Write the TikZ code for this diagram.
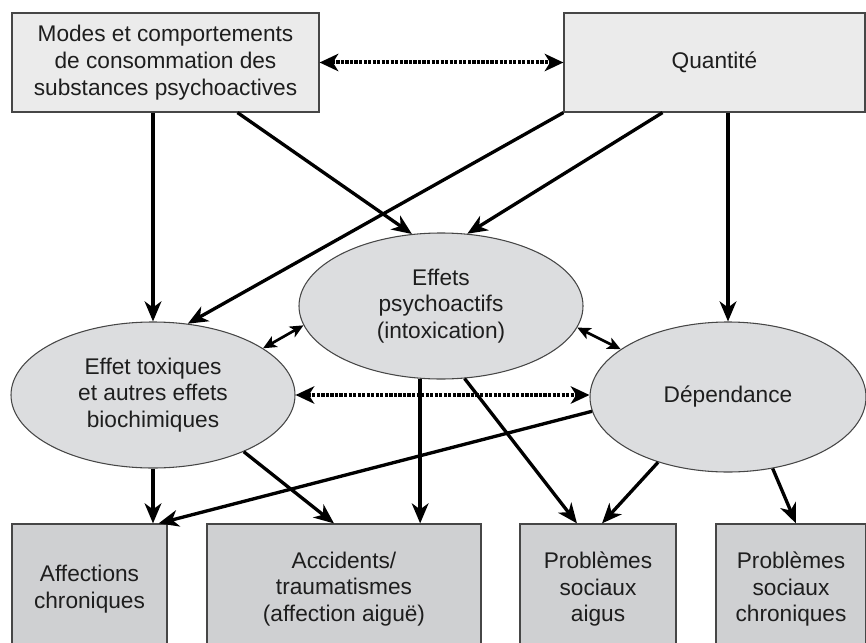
\documentclass[tikz,border=0pt]{standalone}
\usepackage{fontspec}
\setmainfont{Liberation Sans}
\usetikzlibrary{calc}
\usetikzlibrary{arrows.meta}
\usetikzlibrary{shapes.geometric}

\definecolor{topgray}{RGB}{235,235,235}
\definecolor{ellgray}{RGB}{220,221,223}
\definecolor{botgray}{RGB}{207,208,210}
\definecolor{ink}{RGB}{30,30,30}
\definecolor{rim}{RGB}{70,70,70}

\begin{document}
\begin{tikzpicture}[x=0.75pt,y=-0.75pt,
  font=\fontsize{17}{20}\selectfont, text=ink,
  topbox/.style={draw=rim,line width=0.9pt,fill=topgray,align=center,inner sep=0pt,minimum height=74.25pt},
  effect/.style={ellipse,draw=rim,line width=0.8pt,fill=ellgray,align=center,inner sep=0pt},
  outcome/.style={draw=rim,line width=0.9pt,fill=botgray,align=center,inner sep=0pt,minimum height=97.5pt},
  link/.style={line width=2.5pt,-{Stealth[length=15pt,width=12.5pt,inset=4.5pt]}},
  duo/.style={line width=2pt,{Stealth[length=10pt,width=9pt,inset=2.5pt]}-{Stealth[length=10pt,width=9pt,inset=2.5pt]}},
  dotlink/.style={line width=3pt,dash pattern=on 2.4pt off 1pt,{Stealth[length=14pt,width=13pt,inset=4pt]}-{Stealth[length=14pt,width=13pt,inset=4pt]}}]

\useasboundingbox (0,0) rectangle (866,642);
\clip (0,0) rectangle (866,642);

\node[topbox,minimum width=230.25pt] (modes) at (165.5,62.5) {Modes et comportements\\de consommation des\\substances psychoactives};
\node[topbox,minimum width=225.75pt] (qty) at (714.5,62.5) {Quantité};

\node[effect,minimum width=213pt,minimum height=109.5pt] (P) at (441,306) {Effets\\psychoactifs\\(intoxication)};
\node[effect,minimum width=213pt,minimum height=109.5pt] (L) at (153,395) {Effet toxiques\\et autres effets\\biochimiques};
\node[effect,minimum width=207pt,minimum height=112.5pt] (D) at (728,397) {Dépendance};

\node[outcome,minimum width=116.25pt] (aff) at (89.5,589) {Affections\\chroniques};
\node[outcome,minimum width=205.5pt] (acc) at (344,589) {Accidents/\\traumatismes\\(affection aiguë)};
\node[outcome,minimum width=117pt] (aig) at (598,589) {Problèmes\\sociaux\\aigus};
\node[outcome,minimum width=112.5pt] (chr) at (791,589) {Problèmes\\sociaux\\chroniques};

\draw[dotlink] (modes.east) -- (qty.west);
\draw[link] (L.north |- modes.south) -- (L.north);
\draw[link] ($(modes.south)+(72,0)$) -- (P.112);
\draw[link] (qty.south west) -- (L.64);
\draw[link] ($(qty.south)+(-52,0)$) -- (P.70);
\draw[link] (D.north |- qty.south) -- (D.north);

\draw[duo] (L.23) -- (P.188);
\draw[duo] (P.351) -- (D.156);
\draw[dotlink] (L.east) -- (L.east -| D.west);

\draw[link] (L.south) -- (L.south |- aff.north);
\draw[link] (L.328) -- ($(acc.north)+(-10,0)$);
\draw[link] (P.254) -- (P.254 |- acc.north);
\draw[link] (P.288) -- ($(aig.north)+(-21,0)$);
\draw[link] (D.186) -- ($(aff.north east)+(-9,0)$);
\draw[link] (D.223) -- ($(aig.north)+(4,0)$);
\draw[link] (D.302) -- ($(chr.north)+(5,0)$);

\end{tikzpicture}
\end{document}
